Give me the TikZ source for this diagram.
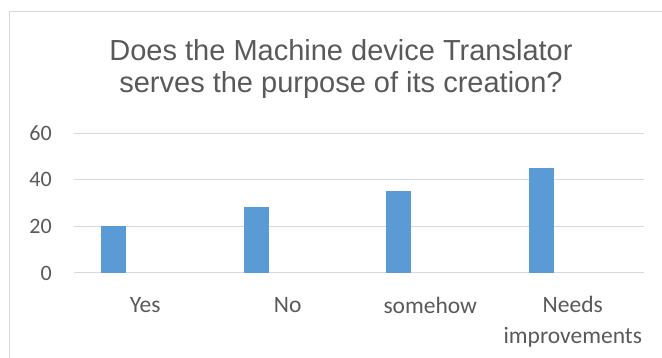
\documentclass[tikz,border=0pt]{standalone}
\usepackage{fontspec}
\setmainfont{Carlito}
\newfontfamily\titlefont{Liberation Sans}
\usetikzlibrary{positioning}

\definecolor{barblue}{HTML}{5B9BD5}
\definecolor{gridgray}{HTML}{D9D9D9}
\definecolor{textgray}{HTML}{595959}

\tikzset{
  bar/.style={fill=barblue, draw=none, inner sep=0pt, anchor=south, minimum width=25pt},
  tick/.style={text=textgray, font=\fontsize{22}{24}\selectfont, anchor=east, inner sep=0pt},
  catlabel/.style={text=textgray, font=\fontsize{23.5}{31}\selectfont, align=center, inner sep=0pt},
}

\begin{document}
\begin{tikzpicture}[x=1pt,y=1pt]
  \useasboundingbox (0,0) rectangle (662,358);
  % chart frame
  \draw[gridgray, line width=1pt] (9,0) -- (9,346) -- (662,346);
  % title
  \node (title) [text=textgray, align=center, inner sep=0pt,
    font=\titlefont\fontsize{29}{32}\selectfont] at (341,289)
    {Does the Machine device Translator\\serves the purpose of its creation?};
  % grid and value axis
  \foreach \v in {0,20,40,60} {
    \draw[gridgray, line width=1pt] (74,85+2.333*\v) -- (644,85+2.333*\v);
    \node (tick-\v) [tick] at (52,85+2.333*\v) {\v};
  }
  % bars
  \node (bar-yes)   [bar, minimum height=20*2.333pt] at (145.25-31.5,85) {};
  \node (bar-no)    [bar, minimum height=28*2.333pt] at (287.75-31.5,85) {};
  \node (bar-some)  [bar, minimum height=35*2.333pt] at (430.25-31.5,85) {};
  \node (bar-needs) [bar, minimum height=45*2.333pt] at (572.75-31.5,85) {};
  % categories
  \node (cat-yes)   [catlabel] at (145.25,53) {Yes};
  \node (cat-no)    [catlabel] at (287.75,53) {No};
  \node (cat-some)  [catlabel] at (430.25,53) {somehow};
  \node (cat-needs) [catlabel, anchor=north] at (572.75,62) {Needs\\improvements};
\end{tikzpicture}
\end{document}
